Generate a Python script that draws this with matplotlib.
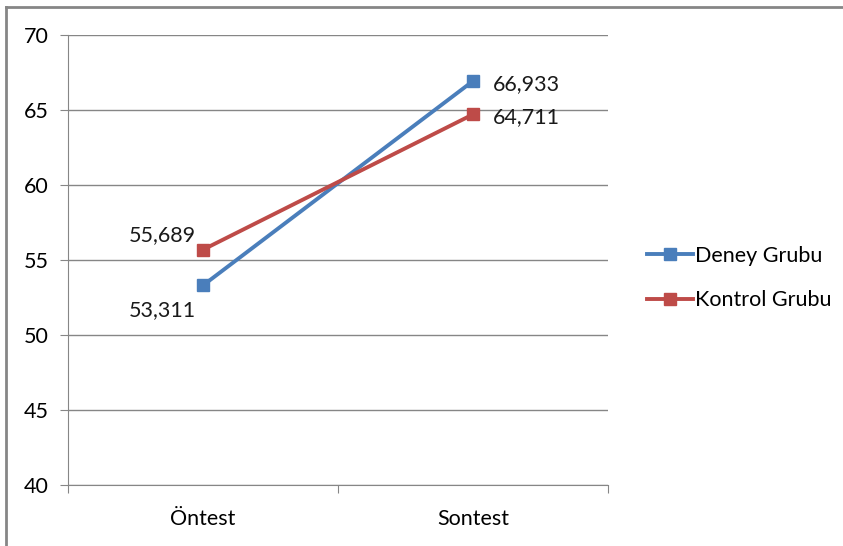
import matplotlib.pyplot as plt
from matplotlib.lines import Line2D

plt.rcParams['font.family'] = ['Lato', 'DejaVu Sans']

categories = ['Öntest', 'Sontest']
deney = [53.311, 66.933]
kontrol = [55.689, 64.711]
series_names = ['Deney Grubu', 'Kontrol Grubu']
y_ticks = [40, 45, 50, 55, 60, 65, 70]

blue = '#4A7EBB'
red = '#BE4B48'
grid_c = '#868686'
fs = 15.5

fig = plt.figure(figsize=(8.43, 5.46), dpi=100)
ax = fig.add_axes([0.0807, 0.1117, 0.6406, 0.8242])

x = list(range(len(categories)))
ax.plot(x, deney, color=blue, lw=2.8, marker='s', ms=8.5, zorder=3)
ax.plot(x, kontrol, color=red, lw=2.8, marker='s', ms=8.5, zorder=3)

def fmt(v):
    return f'{v:.3f}'.replace('.', ',')

# value labels
ax.annotate(fmt(kontrol[0]), (x[0], kontrol[0]), xytext=(-7, 5), textcoords='offset pixels',
            ha='right', va='bottom', fontsize=fs, color='#1a1a1a')
ax.annotate(fmt(deney[0]), (x[0], deney[0]), xytext=(-7, -25), textcoords='offset pixels',
            ha='right', va='center', fontsize=fs, color='#1a1a1a')
ax.annotate(fmt(deney[1]), (x[1], deney[1]), xytext=(20, -3), textcoords='offset pixels',
            ha='left', va='center', fontsize=fs, color='#1a1a1a')
ax.annotate(fmt(kontrol[1]), (x[1], kontrol[1]), xytext=(20, -3), textcoords='offset pixels',
            ha='left', va='center', fontsize=fs, color='#1a1a1a')

ax.set_xlim(-0.5, len(categories) - 0.5)
ax.set_ylim(40, 70)
ax.set_yticks(y_ticks)
ax.yaxis.grid(True, color=grid_c, lw=1)
ax.set_axisbelow(True)

ax.set_xticks([-0.5, 0.5, 1.5])
ax.set_xticklabels([])
ax.set_xticks(x, minor=True)
ax.set_xticklabels(categories, minor=True)
ax.tick_params(axis='x', which='minor', length=0, pad=17, labelsize=fs)
ax.tick_params(axis='x', which='major', length=6, color=grid_c)
ax.tick_params(axis='y', length=6, color=grid_c, labelsize=fs, pad=8)

for s in ['top', 'right']:
    ax.spines[s].set_visible(False)
for s in ['left', 'bottom']:
    ax.spines[s].set_color(grid_c)

handles = [Line2D([], [], color=blue, lw=2.8, marker='s', ms=8.5),
           Line2D([], [], color=red, lw=2.8, marker='s', ms=8.5)]
fig.legend(handles, series_names, loc='center left', bbox_to_anchor=(0.745, 0.491),
           frameon=False, fontsize=fs, handlelength=2.1, handletextpad=0.1,
           labelspacing=1.15)

# chart area border (top and left edges)
fig.add_artist(Line2D([0.0071, 0.0071], [0, 0.987], transform=fig.transFigure,
                      color=grid_c, lw=2))
fig.add_artist(Line2D([0.0071, 1], [0.987, 0.987], transform=fig.transFigure,
                      color=grid_c, lw=2))

fig.savefig('out.png', dpi=100)
